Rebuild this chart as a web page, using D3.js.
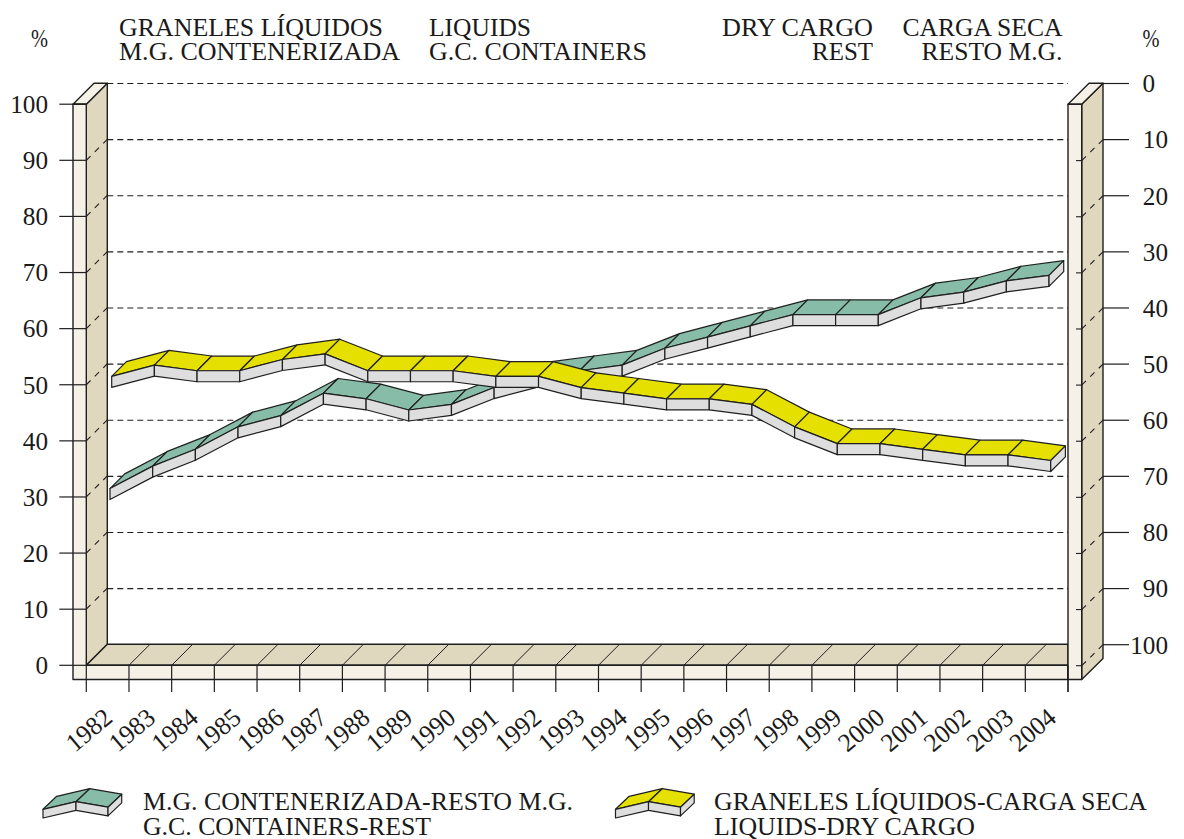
<!DOCTYPE html>
<html><head><meta charset="utf-8">
<script src="https://cdn.jsdelivr.net/npm/d3@7"></script>
<style>html,body{margin:0;padding:0;background:#fff}svg{display:block}text{font-family:"Liberation Serif",serif;fill:#1a1a1a}</style>
</head><body><svg id="c" width="1184" height="839"></svg>
<script>
const years=[1982,1983,1984,1985,1986,1987,1988,1989,1990,1991,1992,1993,1994,1995,1996,1997,1998,1999,2000,2001,2002,2003,2004];
const containersRest=[31,35,38,42,44,48,47,45,46,49,51,52,53,56,58,60,62,62,62,65,66,68,69];
const liquidsDry=[51,53,52,52,54,55,52,52,52,51,51,49,48,47,47,46,42,39,39,38,37,37,36];
const leftTicks=[0,10,20,30,40,50,60,70,80,90,100];
const rightTicks=[0,10,20,30,40,50,60,70,80,90,100];
const TEAL="#87bca8",YELLOW="#e5e000",FACE="#dedede",WALL="#e0d7bf",PILLAR="#f5f1e6",INK="#1f1f1f";

const svg=d3.select("#c");
const xT=d3.scaleLinear().domain([0,23]).range([86.3,1068]);
const xLabel=d3.scaleLinear().domain([0,22]).range([89,1032.8]);
const yL=d3.scaleLinear().domain([0,100]).range([665.3,104.2]);
const yR=d3.scaleLinear().domain([0,100]).range([83.5,644.7]);
const D=21; // wall depth
const poly=(pts,fill,sw=1.4,g=svg)=>g.append("path").attr("d",d3.line()(pts)+"Z").attr("fill",fill).attr("stroke",INK).attr("stroke-width",sw).attr("stroke-linejoin","round");
const seg=(x1,y1,x2,y2,opt={})=>svg.append("line").attr("x1",x1).attr("y1",y1).attr("x2",x2).attr("y2",y2).attr("stroke",opt.c||INK).attr("stroke-width",opt.w||1.2).attr("stroke-dasharray",opt.d||null);
const txt=(s,x,y,size,anchor,len)=>{const t=svg.append("text").attr("x",x).attr("y",y).attr("font-size",size).attr("text-anchor",anchor||"start").text(s);
  if(len){t.attr("textLength",len).attr("lengthAdjust","spacingAndGlyphs");}return t;};
const digitLen=s=>s.length*12.6;

// gridlines on the back plane
leftTicks.forEach(v=>{ if(v>0) seg(107.3,yR(100-v),1068,yR(100-v),{d:"6 4",w:1.1}); });

// left side wall and pillar
const xP0=73,xP1=86.3,xP2=107.3,wallTop=yL(100),wallBot=679.5;
poly([[xP1,wallTop],[xP2,wallTop-D],[xP2,yL(0)-D],[xP1,yL(0)]],WALL);
poly([[xP0,wallTop],[xP1,wallTop],[xP2,wallTop-D],[xP0+D,wallTop-D]],PILLAR);
// floor
poly([[xP1,yL(0)],[xP2,yL(0)-D],[1068,yL(0)-D],[1068,yL(0)]],WALL);
poly([[xP0,wallTop],[xP1,wallTop],[xP1,yL(0)],[1068,yL(0)],[1068,wallBot],[xP0,wallBot]],PILLAR);
// floor divisions and year ticks
d3.range(24).forEach(i=>{
  if(i>0&&i<23) seg(xT(i),yL(0),xT(i)+D,yL(0)-D,{w:1});
  seg(xT(i),yL(0),xT(i),692,{w:1.2});
});
// right pillar
const xQ1=1081.7,xQ2=1103;
poly([[xQ1,wallTop],[xQ2,wallTop-D],[xQ2,wallBot-D],[xQ1,wallBot]],WALL);
poly([[1068,wallTop],[xQ1,wallTop],[xQ2,wallTop-D],[1068+D,wallTop-D]],PILLAR);
poly([[1068,wallTop],[xQ1,wallTop],[xQ1,wallBot],[1068,wallBot]],PILLAR);
seg(1068,yL(0),1068,692,{w:1.2});

// left axis
leftTicks.forEach(v=>{
  const y=yL(v), s=String(v);
  seg(59.3,y,xP1,y,{w:1.2});
  if(v>0&&v<100) seg(xP1,y,xP2,y-D,{d:"6 6",w:1.1});
  txt(s,48,y+8.8,25,"end",digitLen(s));
});
// right axis
rightTicks.forEach(v=>{
  const y=yR(v), s=String(v);
  seg(xQ2,y,1129,y,{w:1.2});
  if(v>0) { seg(xQ1,y+D,xQ2,y,{d:"6 6",w:1.1}); seg(1076,y+D,xQ1,y+D,{w:1.1}); }
  txt(s,v===0?1155:1168,y+8.8,25,"end",digitLen(s));
});

// 3D bands
function band(values,fill,dx){
  const yB=v=>yL(v)-2.8, H=11, DX=14.7,DY=14.7;
  const pt=values.map((v,i)=>[xT(i)+dx,yB(v)]);
  const g=svg.append("g");
  d3.range(pt.length-1).forEach(i=>{
    const a=pt[i],b=pt[i+1];
    poly([a,b,[b[0]+DX,b[1]-DY],[a[0]+DX,a[1]-DY]],fill,1.2,g);
  });
  d3.range(pt.length-1).forEach(i=>{
    const a=pt[i],b=pt[i+1];
    poly([a,b,[b[0],b[1]+H],[a[0],a[1]+H]],FACE,1.2,g);
  });
  const e=pt[pt.length-1];
  poly([e,[e[0]+DX,e[1]-DY],[e[0]+DX,e[1]-DY+H],[e[0],e[1]+H]],FACE,1.2,g);
}
band(containersRest,TEAL,23.7);
band(liquidsDry,YELLOW,25.4);

// year labels
years.forEach((yr,i)=>{
  svg.append("text").attr("transform",`translate(${xLabel(i)},730) rotate(-40)`).attr("text-anchor","middle").attr("dy","0.33em").attr("font-size",26).attr("textLength",51).attr("lengthAdjust","spacingAndGlyphs").text(yr);
});

// header
txt("%",39.5,46.5,25,"middle",17);
txt("%",1151,46.5,25,"middle",17);
txt("GRANELES LÍQUIDOS",119,35.5,25,"start",264);
txt("M.G. CONTENERIZADA",119,60,25,"start",281);
txt("LIQUIDS",429,35.5,25,"start",102);
txt("G.C. CONTAINERS",429,60,25,"start",218);
txt("DRY CARGO",873,35.5,25,"end",151);
txt("REST",873,60,25,"end",61);
txt("CARGA SECA",1062.5,35.5,25,"end",160);
txt("RESTO M.G.",1062.5,60,25,"end",141);

// legend
function icon(x0,fill){
  const steps=[0,33,65], lift=[809.3,801.7,807.2];
  const f=steps.map((s,i)=>[x0+s,lift[i]]);
  const back=f.map(p=>[p[0]+13.7,p[1]-13]);
  const H=8.7;
  poly([f[0],f[1],back[1],back[0]],fill,1.2);
  poly([f[1],f[2],back[2],back[1]],fill,1.2);
  poly([f[0],f[1],[f[1][0],f[1][1]+H],[f[0][0],f[0][1]+H]],FACE,1.2);
  poly([f[1],f[2],[f[2][0],f[2][1]+H],[f[1][0],f[1][1]+H]],FACE,1.2);
  poly([f[2],back[2],[back[2][0],back[2][1]+H],[f[2][0],f[2][1]+H]],FACE,1.2);
}
icon(43,TEAL);
icon(615.5,YELLOW);
txt("M.G. CONTENERIZADA-RESTO M.G.",143,810,25,"start",430);
txt("G.C. CONTAINERS-REST",143,835,25,"start",288);
txt("GRANELES LÍQUIDOS-CARGA SECA",714,810,25,"start",433);
txt("LIQUIDS-DRY CARGO",714,835,25,"start",261);
</script></body></html>
